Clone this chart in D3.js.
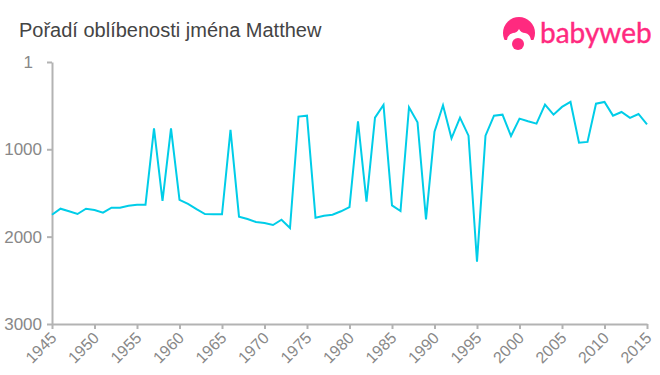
<!DOCTYPE html>
<html>
<head>
<meta charset="utf-8">
<script src="https://d3js.org/d3.v7.min.js"></script>
<style>
  html, body { margin: 0; padding: 0; background: #fff; }
  text { font-family: "Liberation Sans", Arial, sans-serif; }
</style>
</head>
<body>
<div id="chart"></div>
<script>
// Values
const years = d3.range(1945, 2016);
const ranks = [1750, 1680, 1710, 1741, 1680, 1695, 1726, 1668, 1668, 1646,
  1634, 1634, 760, 1590, 760, 1580, 1626, 1685, 1741, 1745,
  1745, 779, 1772, 1798, 1833, 1844, 1867, 1806, 1901, 626,
  615, 1783, 1760, 1749, 1710, 1661, 680, 1600, 638, 493,
  1642, 1707, 519, 691, 1802, 798, 496, 874, 638, 844,
  2287, 844, 615, 604, 848, 649, 680, 707, 489, 604,
  515, 458, 924, 916, 478, 458, 615, 573, 641, 596, 714];
const xTicks = d3.range(1945, 2016, 5);
const yTicks = [1, 1000, 2000, 3000];

// Setup
const svgWidth = 660;
const svgHeight = 375;

const svg = d3.select("#chart")
    .append("svg")
    .attr("width", svgWidth)
    .attr("height", svgHeight)
    .style("display", "block");

const x = d3.scaleLinear().domain([1945, 2015]).range([52, 647]);
const y = d3.scaleLinear().domain([1, 3000]).range([62, 324]);

svg.append("text")
    .attr("x", 19)
    .attr("y", 37)
    .attr("font-size", 20)
    .attr("fill", "#444")
    .text("Pořadí oblíbenosti jména Matthew");

// Axes
const xAxis = svg.append("g")
    .attr("transform", "translate(0,324)")
    .call(d3.axisBottom(x).tickValues(xTicks).tickFormat(d3.format("d")).tickSize(5).tickSizeOuter(0));

xAxis.selectAll("text")
    .attr("font-size", 16)
    .attr("fill", "#888")
    .attr("text-anchor", "end")
    .attr("x", 0)
    .attr("y", 0)
    .attr("dy", 0)
    .attr("transform", "translate(5,15) rotate(-45)");

const yAxis = svg.append("g")
    .attr("transform", "translate(52,0)")
    .call(d3.axisLeft(y).tickValues(yTicks).tickFormat(d3.format("d")).tickSize(5).tickSizeOuter(0));

yAxis.selectAll("text")
    .attr("font-size", 17)
    .attr("fill", "#888")
    .attr("x", d => d === 1 ? -19 : -10);

svg.selectAll(".domain, .tick line")
    .attr("stroke", "#b3b3b3")
    .attr("stroke-width", 2);

// The line
const line = d3.line()
    .x((d, i) => x(years[i]))
    .y(d => y(d));

svg.append("path")
    .datum(ranks)
    .attr("fill", "none")
    .attr("stroke", "#00cde8")
    .attr("stroke-width", 2)
    .attr("d", line);

// Logo
const logo = svg.append("g");
const pink = "#ff2a7f";
logo.append("circle").attr("cx", 519).attr("cy", 33).attr("r", 16).attr("fill", pink);
logo.append("path")
    .attr("d", "M500 52 L500 40 L507 40 Q508 34 513 33 Q517 33 519 29 Q521 33 525 33 Q530 34 531 40 L538 40 L538 52 Z")
    .attr("fill", "#fff");
logo.append("circle").attr("cx", 518).attr("cy", 44).attr("r", 6).attr("fill", pink);
logo.append("text")
    .attr("x", 540)
    .attr("y", 43)
    .attr("font-size", 28)
    .attr("fill", pink)
    .attr("stroke", pink)
    .attr("stroke-width", 0.4)
    .style("font-family", "Lato")
    .text("babyweb");
</script>
</body>
</html>
